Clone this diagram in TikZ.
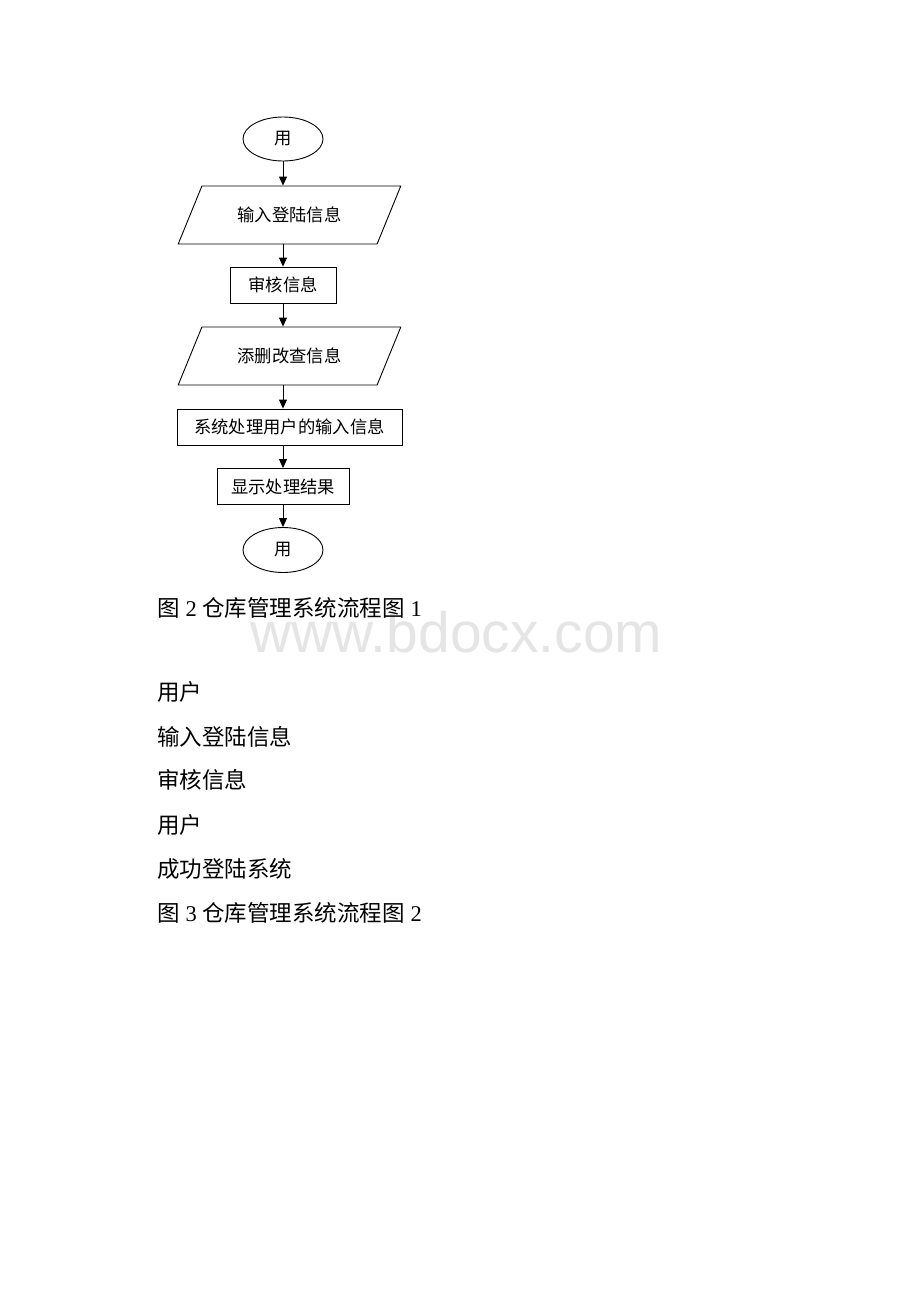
\documentclass[tikz,border=0pt]{standalone}
\usepackage{fontspec}
\setmainfont{Liberation Serif}
\newfontfamily\cjk{Noto Sans CJK SC}
\newfontfamily\wmfont{Liberation Sans}
\usetikzlibrary{shapes.geometric,arrows.meta}
\tikzset {>={Triangle[length=9pt,width=8pt]}}

\begin{document}
\begin{tikzpicture}[x=1pt,y=-1pt,line width=0.9pt,
  every node/.style={font=\cjk\fontsize{17.3}{19}\selectfont},
  terminal/.style={draw,ellipse,minimum width=80pt,minimum height=44pt,inner sep=0pt},
  iobox/.style={draw,trapezium,trapezium left angle=49,trapezium right angle=131,trapezium stretches=true,minimum width=223pt,minimum height=58pt,inner sep=0pt},
  procbox/.style={draw,rectangle,minimum height=36pt,inner sep=0pt},
  bodytext/.style={anchor=west,inner sep=0pt,font=\fontsize{22.5}{25}\selectfont}]
\fill[white] (0,0) rectangle (920,1302);
\useasboundingbox (0,0) rectangle (920,1302);
\coordinate (axis) at (283,0);
% flowchart 1
\node[terminal] (start) at (283,139) {用};
\node[iobox] (login) at (289.5,215) {输入登陆信息};
\node[procbox,minimum width=106pt] (check) at (283,285) {审核信息};
\node[iobox] (edit) at (289.5,356) {添删改查信息};
\node[procbox,minimum width=225pt] (handle) at (289.5,427) {系统处理用户的输入信息};
\node[procbox,minimum width=132pt] (show) at (283,486.5) {显示处理结果};
\node[terminal,minimum height=45pt] (stop) at (283,550) {用};
\draw[->] (start) -- (axis |- login.north);
\draw[->] (axis |- login.south) -- (check);
\draw[->] (check) -- (axis |- edit.north);
\draw[->] (axis |- edit.south) -- (axis |- handle.north);
\draw[->] (axis |- handle.south) -- (show);
\draw[->] (show) -- (stop);
% watermark and captions
\node[anchor=base west,inner sep=0pt,text=black!10,font=\wmfont\fontsize{57}{60}\selectfont] (mark) at (250,652) {www.bdocx.com};
\node[bodytext] (cap1) at (157,608) {{\cjk 图} 2 {\cjk 仓库管理系统流程图} 1};
\node[bodytext] (l1) at (157,692) {\cjk 用户};
\node[bodytext] (l2) at (157,737) {\cjk 输入登陆信息};
\node[bodytext] (l3) at (157,780) {\cjk 审核信息};
\node[bodytext] (l4) at (157,825) {\cjk 用户};
\node[bodytext] (l5) at (157,869) {\cjk 成功登陆系统};
\node[bodytext] (cap2) at (157,913) {{\cjk 图} 3 {\cjk 仓库管理系统流程图} 2};
\end{tikzpicture}
\end{document}
